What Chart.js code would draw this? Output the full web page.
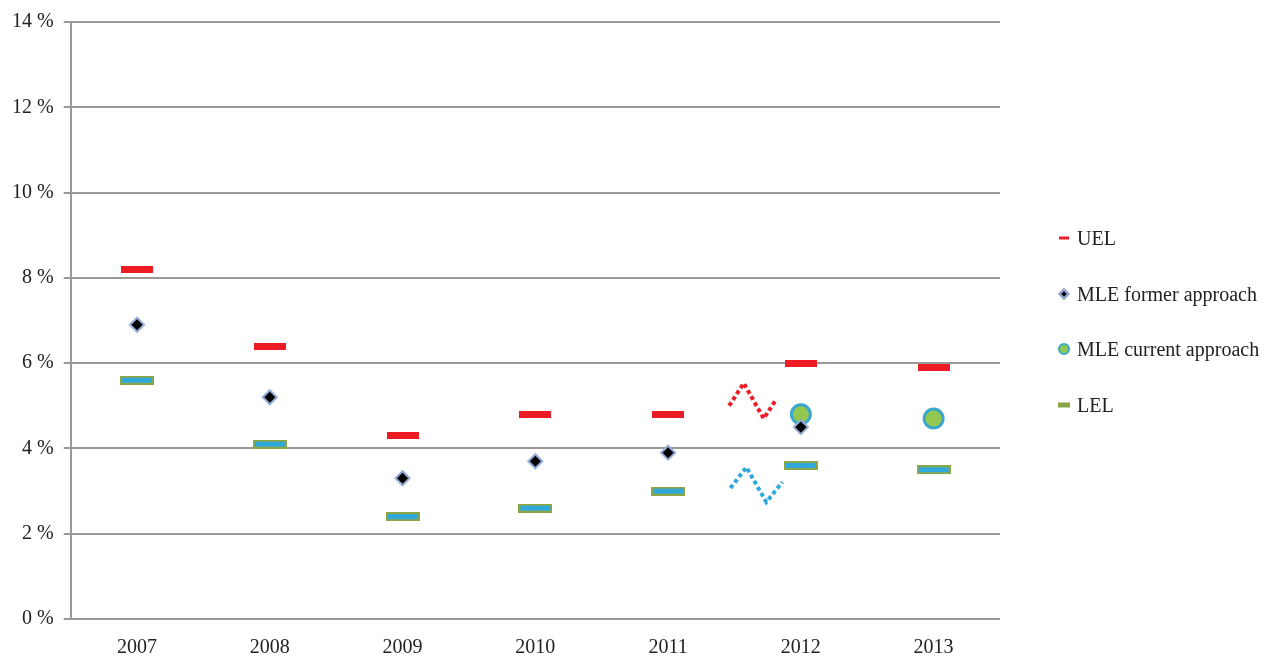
<!DOCTYPE html>
<html>
<head>
<meta charset="utf-8">
<script src="https://cdn.jsdelivr.net/npm/chart.js@4/dist/chart.umd.min.js"></script>
<style>
  html, body { margin: 0; padding: 0; background: #fff; }
  #wrap { position: relative; width: 1267px; height: 657px; }
  #chart { display: block; }
  #legend { position: absolute; left: 1056px; top: 224px; margin: 0; padding: 0; list-style: none;
            font-family: 'Liberation Serif', 'DejaVu Serif', serif; font-size: 20px; color: #222; }
  #legend li { position: relative; height: 55.7px; padding-left: 21px; line-height: 28px; white-space: nowrap; }
  #legend .mk { position: absolute; top: 14px; left: 8px; transform: translate(-50%, -50%); box-sizing: border-box; }
</style>
</head>
<body>
<div id="wrap">
  <canvas id="chart" width="1267" height="657"></canvas>
  <ul id="legend"></ul>
</div>
<script>
// data (values in %)
const years = ['2007', '2008', '2009', '2010', '2011', '2012', '2013'];
const uel = [8.2, 6.4, 4.3, 4.8, 4.8, 6.0, 5.9];
const mleFormer = [6.9, 5.2, 3.3, 3.7, 3.9, 4.5, null];
const mleCurrent = [null, null, null, null, null, 4.8, 4.7];
const lel = [5.6, 4.1, 2.4, 2.6, 3.0, 3.6, 3.5];
const yTicks = [0, 2, 4, 6, 8, 10, 12, 14];

// break marks between 2011 and 2012 (x in category index units)
const breakX = [4.46, 4.57, 4.72, 4.81];
const breakUpper = [5.0, 5.53, 4.7, 5.13];
const breakLowerX = [4.47, 4.59, 4.74, 4.86];
const breakLower = [3.07, 3.56, 2.74, 3.21];

const RED = '#ed1c24';
const BLUE = '#2fa9dc';
const GREEN = '#8aa748';
const FONT = "'Liberation Serif', 'DejaVu Serif', serif";

function toPoints(vals, xs) {
    return vals.map((v, i) => ({ x: xs ? xs[i] : i, y: v })).filter(p => p.y !== null);
}

// bar-like markers drawn as small canvases
function dash(w, h, fill, stroke) {
    const c = document.createElement('canvas');
    c.width = w; c.height = h;
    const g = c.getContext('2d');
    g.fillStyle = stroke || fill;
    g.fillRect(0, 0, w, h);
    if (stroke) {
        g.fillStyle = fill;
        g.fillRect(2, 2, w - 4, h - 4);
    }
    return c;
}

const datasets = [
    {
        label: 'UEL',
        data: toPoints(uel),
        pointStyle: dash(32, 7, RED),
        legendCss: 'width:10px;height:3px;background:' + RED
    },
    {
        label: 'MLE former approach',
        data: toPoints(mleFormer),
        pointStyle: 'rectRot',
        pointRadius: 7,
        pointBackgroundColor: '#000',
        pointBorderColor: '#93acd8',
        pointBorderWidth: 2,
        legendCss: 'width:8px;height:8px;background:#000;border:2px solid #93acd8;transform:translate(-50%,-50%) rotate(45deg)'
    },
    {
        label: 'MLE current approach',
        data: toPoints(mleCurrent),
        pointStyle: 'circle',
        pointRadius: 9.5,
        pointBackgroundColor: '#92c84f',
        pointBorderColor: '#3aa8cc',
        pointBorderWidth: 3,
        legendCss: 'width:12px;height:12px;border-radius:50%;background:#92c84f;border:2px solid #3aa8cc'
    },
    {
        label: 'LEL',
        data: toPoints(lel),
        pointStyle: dash(34, 9, BLUE, GREEN),
        legendCss: 'width:12px;height:5px;background:' + GREEN
    },
    {
        label: '',
        data: toPoints(breakUpper, breakX),
        showLine: true,
        borderColor: RED,
        borderWidth: 4,
        borderDash: [4, 3],
        pointRadius: 0
    },
    {
        label: '',
        data: toPoints(breakLower, breakLowerX),
        showLine: true,
        borderColor: BLUE,
        borderWidth: 4,
        borderDash: [4, 3],
        pointRadius: 0
    }
];

// html legend for the four real series
const legendEl = document.getElementById('legend');
datasets.filter(ds => ds.legendCss).forEach(ds => {
    const li = document.createElement('li');
    li.innerHTML = '<span class="mk" style="' + ds.legendCss + '"></span>' + ds.label;
    legendEl.appendChild(li);
});

new Chart(document.getElementById('chart'), {
    type: 'scatter',
    data: { datasets: datasets },
    options: {
        responsive: false,
        animation: false,
        layout: { padding: { top: 11, right: 267, left: 2, bottom: -20 } },
        scales: {
            x: {
                type: 'linear',
                min: -0.5,
                max: 6.5,
                afterBuildTicks: axis => { axis.ticks = years.map((y, i) => ({ value: i })); },
                ticks: {
                    callback: v => years[v],
                    color: '#222',
                    font: { family: FONT, size: 20 },
                    padding: 17
                },
                grid: { display: false, drawTicks: false },
                border: { display: false }
            },
            y: {
                min: 0,
                max: 14,
                afterBuildTicks: axis => { axis.ticks = yTicks.map(v => ({ value: v })); },
                ticks: {
                    callback: v => v + ' %',
                    color: '#222',
                    font: { family: FONT, size: 20 },
                    padding: 10
                },
                grid: { color: '#999', lineWidth: 2, tickLength: 7 },
                border: { color: '#999', width: 2 }
            }
        },
        plugins: {
            tooltip: { enabled: false },
            legend: { display: false }
        }
    }
});
</script>
</body>
</html>
